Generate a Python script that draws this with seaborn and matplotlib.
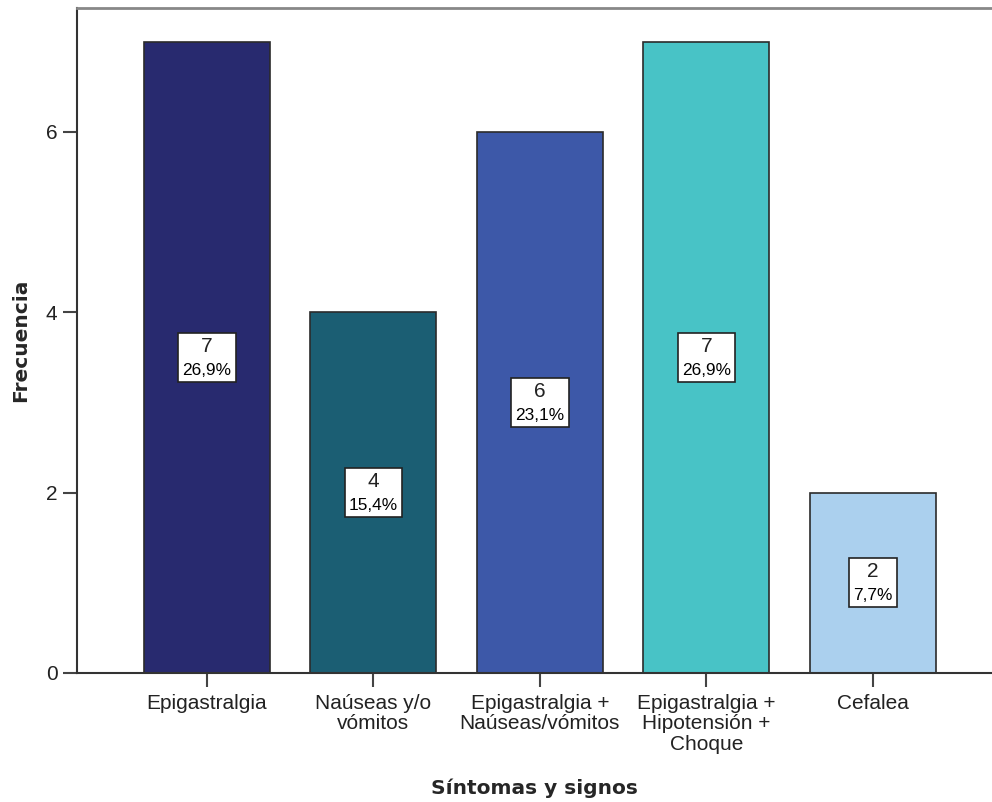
import seaborn as sns
import matplotlib.pyplot as plt
import pandas as pd
from matplotlib.offsetbox import TextArea, VPacker, AnnotationBbox

# datos del grafico
sintomas = ['Epigastralgia', 'Naúseas y/o\nvómitos', 'Epigastralgia +\nNaúseas/vómitos',
            'Epigastralgia +\nHipotensión +\nChoque', 'Cefalea']
frecuencia = [7, 4, 6, 7, 2]
porcentaje = ['26,9%', '15,4%', '23,1%', '26,9%', '7,7%']
colores = ['#282A6F', '#1B5E73', '#3D58A8', '#48C3C6', '#ABD0EE']

df = pd.DataFrame({'Sintomas': sintomas, 'Frecuencia': frecuencia})

sns.set_style('white')
plt.rcParams['font.family'] = ['Liberation Sans', 'DejaVu Sans']

fig = plt.figure(figsize=(9.92, 8.02), dpi=100)
ax = fig.add_axes([0.0776, 0.161, 0.9224, 0.829])

sns.barplot(data=df, x='Sintomas', y='Frecuencia', hue='Sintomas', palette=colores,
            saturation=1, width=0.757, edgecolor='#2b2b2b', linewidth=1.2,
            legend=False, ax=ax)

ax.set_xlim(-0.78, 4.715)
ax.set_ylim(0, 7.375)
ax.set_yticks([0, 2, 4, 6])

# etiquetas dentro de las barras (n y %)
for i, (v, p) in enumerate(zip(frecuencia, porcentaje)):
    caja = VPacker(children=[TextArea(str(v), textprops=dict(fontsize=15, color='#222222')),
                             TextArea(p, textprops=dict(fontsize=12.4, color='black'))],
                   align='center', pad=0, sep=5)
    ab = AnnotationBbox(caja, (i, v / 2), frameon=True, pad=0.36, box_alignment=(0.5, 0.5),
                        bboxprops=dict(boxstyle='square', fc='white', ec='#222222', lw=1.2))
    ax.add_artist(ab)

for s in ['left', 'bottom']:
    ax.spines[s].set_color('#333333')
    ax.spines[s].set_linewidth(1.5)
ax.spines['top'].set_color('#888888')
ax.spines['top'].set_linewidth(2)
ax.spines['right'].set_visible(False)

ax.tick_params(axis='both', direction='out', length=10, width=1.5, color='#444444',
               labelsize=15, labelcolor='#222222', pad=4, left=True, bottom=True)
ax.tick_params(axis='x', pad=5)
for t in ax.get_xticklabels():
    t.set_linespacing(1.1)

ax.set_ylabel('Frecuencia', fontsize=14.5, fontweight='bold', family='DejaVu Sans', labelpad=11)
ax.set_xlabel('Síntomas y signos', fontsize=14.5, fontweight='bold', family='DejaVu Sans', labelpad=18)

fig.savefig('out.png', dpi=100)
